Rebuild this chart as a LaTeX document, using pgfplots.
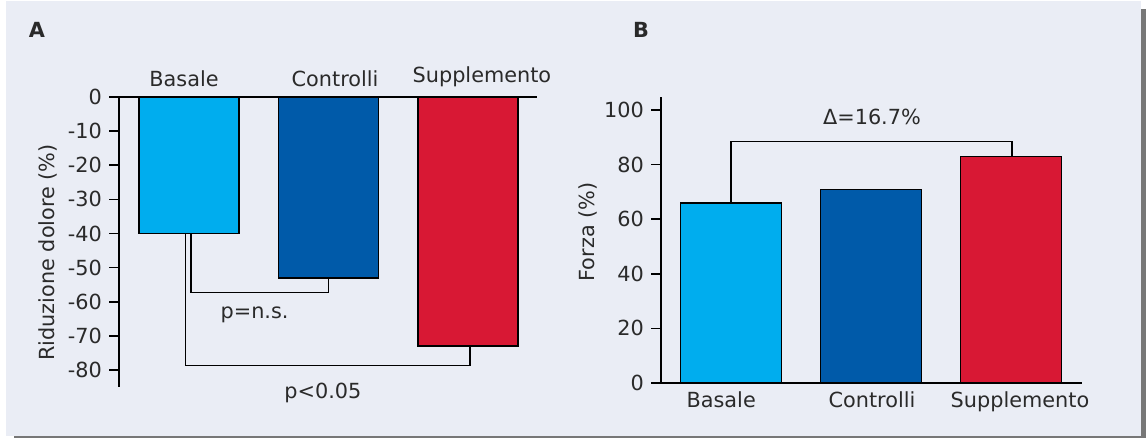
\documentclass[border=0pt]{standalone}
\usepackage{fontspec}
\setmainfont{DejaVu Sans}
\usepackage{pgfplots}
\pgfplotsset{compat=1.18}
\definecolor{bg}{HTML}{EAEDF5}
\definecolor{shadowgray}{HTML}{777777}
\definecolor{lblue}{HTML}{00ADEE}
\definecolor{dblue}{HTML}{005AA9}
\definecolor{cred}{HTML}{D81834}
\definecolor{txt}{HTML}{2A2A2A}
\begin{document}
\begin{tikzpicture}[font=\fontsize{10.4}{12.5}\selectfont, text=txt]
\fill[shadowgray] (7pt,0pt) rectangle (573pt,214.5pt);
\fill[bg] (3pt,1pt) rectangle (570.5pt,218.5pt);
% Panel A
\begin{axis}[
  at={(59.5pt,25.5pt)}, anchor=south west, scale only axis,
  width=209pt, height=145pt,
  xmin=-0.502, xmax=2.495, ymin=-85, ymax=0,
  axis x line*=top, axis y line*=left,
  axis line style={line width=0.8pt, black},
  ytick={-80,-70,-60,-50,-40,-30,-20,-10,0},
  yticklabels={-80,-70,-60,-50,-40,-30,-20,-10,0},
  xtick={-0.036,1.047,2.10}, xticklabels={Basale,Controlli,Supplemento},
  x tick style={draw=none},
  xticklabel style={yshift=-3.5pt},
  y tick style={line width=0.8pt, black},
  tick align=outside, major tick length=5pt,
  ylabel={Riduzione dolore (\%)},
  every axis y label/.style={at={(axis description cs:-0.170,0.464)}, rotate=90, anchor=center},
  bar width=0.717, clip=false,
]
\addplot[ybar, bar shift=0pt, fill=lblue, draw=black, line width=0.7pt] coordinates {(0,-40)};
\addplot[ybar, bar shift=0pt, fill=dblue, draw=black, line width=0.7pt] coordinates {(1,-53)};
\addplot[ybar, bar shift=0pt, fill=cred, draw=black, line width=0.7pt] coordinates {(2,-73)};
\addplot[black, line width=0.6pt, sharp plot] coordinates {(0.014,-40) (0.014,-57.4) (1,-57.4) (1,-53)};
\addplot[black, line width=0.6pt, sharp plot] coordinates {(-0.025,-40) (-0.025,-78.7) (2.014,-78.7) (2.014,-73)};
\node at (axis cs:0.47,-63.9) {p=n.s.};
\node at (axis cs:0.96,-86.7) {p<0.05};
\end{axis}
% Panel B
\begin{axis}[
  at={(330.5pt,27.5pt)}, anchor=south west, scale only axis,
  width=210.5pt, height=143pt,
  xmin=-0.5, xmax=2.507, ymin=0, ymax=104.8,
  axis x line*=bottom, axis y line*=left,
  axis line style={line width=0.8pt, black},
  ytick={0,20,40,60,80,100},
  yticklabels={0,20,40,60,80,100},
  xtick={-0.07,1.007,2.064}, xticklabels={Basale,Controlli,Supplemento},
  x tick style={draw=none},
  xticklabel style={yshift=4pt},
  y tick style={line width=0.8pt, black},
  tick align=outside, major tick length=5pt,
  ylabel={Forza (\%)},
  every axis y label/.style={at={(axis description cs:-0.173,0.528)}, rotate=90, anchor=center},
  bar width=0.72, clip=false,
]
\addplot[ybar, bar shift=0pt, fill=lblue, draw=black, line width=0.7pt] coordinates {(0,66)};
\addplot[ybar, bar shift=0pt, fill=dblue, draw=black, line width=0.7pt] coordinates {(1,71)};
\addplot[ybar, bar shift=0pt, fill=cred, draw=black, line width=0.7pt] coordinates {(2,83)};
\addplot[black, line width=0.6pt, sharp plot] coordinates {(0,66) (0,88.6) (2.007,88.6) (2.007,83)};
\node at (axis cs:1.007,97.4) {Δ=16.7\%};
\end{axis}
\node[font=\fontsize{10.4}{12.5}\selectfont\bfseries] at (18.5pt,204pt) {A};
\node[font=\fontsize{10.4}{12.5}\selectfont\bfseries] at (320.5pt,204pt) {B};
\pgfresetboundingbox
\useasboundingbox (0,0) rectangle (573pt,219pt);
\end{tikzpicture}
\end{document}
